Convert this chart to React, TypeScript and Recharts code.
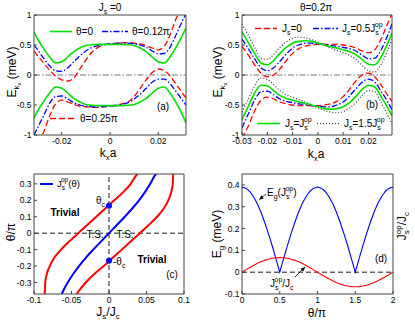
import React from "react"
import { LineChart, Line, XAxis, YAxis, ReferenceLine, ReferenceDot } from "recharts"

const W = 415
const H = 323
const FONT = "'Liberation Sans', Arial, sans-serif"
const AX = "#444"
const GREEN = "#00e000"
const BLUE = "#0000ff"
const RED = "#ff0000"

// (a) J_s = 0, three angles
const kxA = [-0.0315, -0.03, -0.0275, -0.025, -0.0225, -0.02, -0.0175, -0.015, -0.0125, -0.01, -0.0075, -0.005, -0.0025, 0, 0.0025, 0.005, 0.0075, 0.01, 0.0125, 0.015, 0.0175, 0.02, 0.0225, 0.025, 0.0275, 0.03, 0.0315]
const aGreenUp = [0.72, 0.6, 0.44, 0.3, 0.2, 0.22, 0.3, 0.39, 0.45, 0.49, 0.505, 0.51, 0.51, 0.51, 0.51, 0.51, 0.505, 0.49, 0.45, 0.39, 0.3, 0.22, 0.2, 0.31, 0.47, 0.66, 0.78]
const aGreenDn = [-0.72, -0.6, -0.44, -0.3, -0.2, -0.22, -0.3, -0.39, -0.45, -0.49, -0.505, -0.51, -0.51, -0.51, -0.51, -0.51, -0.505, -0.49, -0.45, -0.39, -0.3, -0.22, -0.2, -0.31, -0.47, -0.66, -0.8]
const aBlueUp = [0.5, 0.42, 0.28, 0.15, 0.07, 0.06, 0.12, 0.22, 0.32, 0.4, 0.46, 0.49, 0.51, 0.52, 0.525, 0.53, 0.53, 0.52, 0.5, 0.46, 0.4, 0.35, 0.36, 0.47, 0.68, 0.9, 1.02]
const aBlueDn = [-1.0, -0.88, -0.68, -0.47, -0.36, -0.35, -0.4, -0.46, -0.5, -0.52, -0.53, -0.53, -0.525, -0.52, -0.51, -0.49, -0.46, -0.4, -0.32, -0.22, -0.12, -0.07, -0.07, -0.15, -0.28, -0.42, -0.5]
const aRedUp = [0.4, 0.32, 0.2, 0.08, -0.02, -0.08, -0.1, -0.05, 0.1, 0.25, 0.38, 0.46, 0.5, 0.52, 0.53, 0.54, 0.54, 0.53, 0.52, 0.49, 0.45, 0.42, 0.48, 0.68, 0.95, 1.15, 1.25]
const aRedDn = [-1.25, -1.15, -0.95, -0.68, -0.48, -0.42, -0.45, -0.49, -0.52, -0.53, -0.54, -0.54, -0.53, -0.52, -0.5, -0.48, -0.45, -0.36, -0.22, -0.08, 0.04, 0.1, 0.07, -0.02, -0.16, -0.3, -0.38]

// (b) theta = 0.2 pi, four J_s values
const kxB = [-0.03, -0.0275, -0.025, -0.0225, -0.02, -0.0175, -0.015, -0.0125, -0.01, -0.0075, -0.005, -0.0025, 0, 0.0025, 0.005, 0.0075, 0.01, 0.0125, 0.015, 0.0175, 0.02, 0.0225, 0.025, 0.0275, 0.0293]
const bRedUp = [0.48, 0.33, 0.17, 0.03, -0.03, 0.0, 0.1, 0.24, 0.36, 0.44, 0.48, 0.5, 0.51, 0.51, 0.51, 0.51, 0.5, 0.48, 0.45, 0.4, 0.37, 0.42, 0.6, 0.85, 1.02]
const bRedDn = [-1.05, -0.85, -0.6, -0.42, -0.37, -0.4, -0.45, -0.48, -0.5, -0.51, -0.51, -0.51, -0.51, -0.5, -0.48, -0.44, -0.36, -0.24, -0.1, 0.0, 0.03, -0.03, -0.17, -0.33, -0.44]
const bBlueUp = [0.6, 0.44, 0.27, 0.12, 0.07, 0.12, 0.23, 0.35, 0.45, 0.5, 0.53, 0.53, 0.52, 0.51, 0.49, 0.48, 0.46, 0.44, 0.4, 0.33, 0.27, 0.28, 0.42, 0.65, 0.85]
const bBlueDn = [-0.88, -0.65, -0.42, -0.28, -0.27, -0.33, -0.4, -0.44, -0.46, -0.48, -0.49, -0.51, -0.52, -0.53, -0.53, -0.5, -0.45, -0.35, -0.23, -0.12, -0.07, -0.12, -0.27, -0.44, -0.58]
const bGreenUp = [0.72, 0.54, 0.36, 0.2, 0.17, 0.24, 0.36, 0.46, 0.53, 0.56, 0.57, 0.56, 0.53, 0.5, 0.47, 0.45, 0.42, 0.39, 0.34, 0.26, 0.18, 0.17, 0.3, 0.52, 0.7]
const bGreenDn = [-0.74, -0.52, -0.3, -0.17, -0.18, -0.26, -0.34, -0.39, -0.42, -0.45, -0.47, -0.5, -0.53, -0.56, -0.57, -0.56, -0.53, -0.46, -0.36, -0.24, -0.17, -0.2, -0.36, -0.54, -0.68]
const bDotUp = [0.85, 0.66, 0.46, 0.28, 0.26, 0.34, 0.46, 0.55, 0.61, 0.63, 0.62, 0.59, 0.55, 0.5, 0.45, 0.41, 0.37, 0.33, 0.26, 0.16, 0.07, 0.05, 0.18, 0.4, 0.6]
const bDotDn = [-0.62, -0.4, -0.18, -0.05, -0.07, -0.16, -0.26, -0.33, -0.37, -0.41, -0.45, -0.5, -0.55, -0.59, -0.62, -0.63, -0.61, -0.55, -0.46, -0.34, -0.26, -0.28, -0.46, -0.66, -0.82]

// (c) phase diagram, J_s/J_c as function of theta/pi
const thetaC = [-0.37, -0.35, -0.3, -0.25, -0.2, -0.15, -0.1, -0.05, 0, 0.05, 0.1, 0.15, 0.2, 0.25, 0.3, 0.35, 0.36]
const cBlue = [-0.063, -0.061, -0.055, -0.048, -0.04, -0.031, -0.021, -0.0105, 0, 0.0105, 0.021, 0.031, 0.04, 0.048, 0.055, 0.061, 0.063]
const cRedR = [-0.043, -0.04, -0.031, -0.02, -0.007, 0.005, 0.017, 0.029, 0.041, 0.053, 0.064, 0.073, 0.079, 0.083, 0.085, 0.0855, 0.0857]
const cRedL = [-0.0857, -0.0855, -0.085, -0.083, -0.079, -0.073, -0.064, -0.053, -0.041, -0.029, -0.017, -0.005, 0.007, 0.019, 0.029, 0.036, 0.038]
const critJ = [0, 0]
const critTheta = [0.167, -0.167]

// (d) gap and optimal J_s vs theta/pi
const thetaD = [0, 0.05, 0.1, 0.15, 0.2, 0.25, 0.3, 0.35, 0.4, 0.45, 0.5, 0.55, 0.6, 0.65, 0.7, 0.75, 0.8, 0.85, 0.9, 0.95, 1, 1.05, 1.1, 1.15, 1.2, 1.25, 1.3, 1.35, 1.4, 1.45, 1.5, 1.55, 1.6, 1.65, 1.7, 1.75, 1.8, 1.85, 1.9, 1.95, 2]
const dGap = [0.39, 0.385, 0.371, 0.347, 0.316, 0.276, 0.229, 0.177, 0.121, 0.061, 0, 0.061, 0.121, 0.177, 0.229, 0.276, 0.316, 0.347, 0.371, 0.385, 0.39, 0.385, 0.371, 0.347, 0.316, 0.276, 0.229, 0.177, 0.121, 0.061, 0, 0.061, 0.121, 0.177, 0.229, 0.276, 0.316, 0.347, 0.371, 0.385, 0.39]
const dJop = [0, 0.0105, 0.0207, 0.0304, 0.0394, 0.0474, 0.0542, 0.0597, 0.0637, 0.0662, 0.067, 0.0662, 0.0637, 0.0597, 0.0542, 0.0474, 0.0394, 0.0304, 0.0207, 0.0105, 0, -0.0105, -0.0207, -0.0304, -0.0394, -0.0474, -0.0542, -0.0597, -0.0637, -0.0662, -0.067, -0.0662, -0.0637, -0.0597, -0.0542, -0.0474, -0.0394, -0.0304, -0.0207, -0.0105, 0]

const rowsA = kxA.map((k, i) => ({ k, gU: aGreenUp[i], gD: aGreenDn[i], bU: aBlueUp[i], bD: aBlueDn[i], rU: aRedUp[i], rD: aRedDn[i] }))
const rowsB = kxB.map((k, i) => ({
  k, rU: bRedUp[i], rD: bRedDn[i], bU: bBlueUp[i], bD: bBlueDn[i], gU: bGreenUp[i], gD: bGreenDn[i], dU: bDotUp[i], dD: bDotDn[i],
}))
const lineBlueC = thetaC.map((t, i) => ({ j: cBlue[i], t }))
const lineRedRC = thetaC.map((t, i) => ({ j: cRedR[i], t }))
const lineRedLC = thetaC.map((t, i) => ({ j: cRedL[i], t }))
const rowsD = thetaD.map((th, i) => ({ th, gap: dGap[i], jop: dJop[i] }))

const tickStyle = { fontSize: 8.5, fill: "#000", fontFamily: FONT }

// box-style frame: ticks on all four sides, pointing inward
function frame(xd: number[], xt: number[], yd: number[], yt: number[], xKey: string) {
  return [
    <XAxis key="xb" xAxisId="b" type="number" dataKey={xKey} domain={xd} ticks={xt} allowDataOverflow interval={0}
      orientation="bottom" height={20} tickSize={-3} tickMargin={6} stroke={AX} tick={tickStyle} />,
    <XAxis key="xt" xAxisId="t" type="number" dataKey={xKey} domain={xd} ticks={xt} allowDataOverflow interval={0}
      orientation="top" height={1} tickSize={-3} stroke={AX} tick={false} />,
    <YAxis key="yl" yAxisId="l" type="number" domain={yd} ticks={yt} allowDataOverflow interval={0}
      width={28} tickSize={-3} tickMargin={5.5} stroke={AX} tick={tickStyle} />,
    <YAxis key="yr" yAxisId="r" orientation="right" type="number" domain={yd} ticks={yt} allowDataOverflow interval={0}
      width={1} tickSize={-3} stroke={AX} tick={false} />,
  ]
}

const DASH = "6 3"
const DASHDOT = "6 2 1.5 2"
const DOT = "1 2"

function ln(key: string, color: string, w: number, dash?: string) {
  return (
    <Line key={key} xAxisId="b" yAxisId="l" dataKey={key} type="monotone" stroke={color}
      strokeWidth={w} strokeDasharray={dash} dot={false} isAnimationActive={false} />
  )
}

const abs: React.CSSProperties = { position: "absolute", left: 0, top: 0 }

// subscript, then optional text back on the baseline
function Sub({ s, after, size = 7 }: { s: string; after?: string; size?: number }) {
  return (
    <>
      <tspan dy={3} fontSize={size}>{s}</tspan>
      {after ? <tspan dy={-3}>{after}</tspan> : null}
    </>
  )
}

// J_s^{op}: subscript and superscript stacked
function JsOp({ after, size = 7 }: { after?: string; size?: number }) {
  return (
    <>
      <tspan>J</tspan>
      <tspan dy={3} fontSize={size}>s</tspan>
      <tspan dx={-4} dy={-8} fontSize={size}>op</tspan>
      {after ? <tspan dy={5}>{after}</tspan> : null}
    </>
  )
}

export default function App() {
  return (
    <div style={{ position: "absolute", left: 0, top: 0, width: W, height: H, background: "#fff", fontFamily: FONT }}>
      {/* (a) */}
      <div style={abs}>
        <LineChart width={W} height={H} data={rowsA} margin={{ left: 6, right: 228, top: 14, bottom: 168 }}>
          {frame([-0.0315, 0.0315], [-0.02, 0, 0.02], [-1, 1], [-1, -0.5, 0, 0.5, 1], "k")}
          <ReferenceLine xAxisId="b" yAxisId="l" y={0} stroke="#555" strokeWidth={0.8} strokeDasharray={DASHDOT} />
          {ln("rU", RED, 1.3, DASH)}
          {ln("rD", RED, 1.3, DASH)}
          {ln("bU", BLUE, 1.3, DASHDOT)}
          {ln("bD", BLUE, 1.3, DASHDOT)}
          {ln("gU", GREEN, 1.6)}
          {ln("gD", GREEN, 1.6)}
        </LineChart>
      </div>

      {/* (b) */}
      <div style={abs}>
        <LineChart width={W} height={H} data={rowsB} margin={{ left: 214, right: 22, top: 14, bottom: 168 }}>
          {frame([-0.03, 0.0293], [-0.03, -0.02, -0.01, 0, 0.01, 0.02], [-1, 1], [-1, -0.5, 0, 0.5, 1], "k")}
          <ReferenceLine xAxisId="b" yAxisId="l" y={0} stroke="#555" strokeWidth={0.8} strokeDasharray={DASHDOT} />
          {ln("dU", "#333", 1.2, DOT)}
          {ln("dD", "#333", 1.2, DOT)}
          {ln("rU", RED, 1.3, DASH)}
          {ln("rD", RED, 1.3, DASH)}
          {ln("bU", BLUE, 1.3, DASHDOT)}
          {ln("bD", BLUE, 1.3, DASHDOT)}
          {ln("gU", GREEN, 1.6)}
          {ln("gD", GREEN, 1.6)}
        </LineChart>
      </div>

      {/* (c) */}
      <div style={abs}>
        <LineChart width={W} height={H} margin={{ left: 6, right: 230, top: 173, bottom: 9 }}>
          {frame([-0.1, 0.1], [-0.1, -0.05, 0, 0.05, 0.1], [-0.37, 0.36], [-0.3, -0.2, -0.1, 0, 0.1, 0.2, 0.3], "j")}
          <ReferenceLine xAxisId="b" yAxisId="l" y={0} stroke="#000" strokeWidth={0.9} strokeDasharray="5 3" />
          <ReferenceLine xAxisId="b" yAxisId="l" x={0} stroke="#000" strokeWidth={0.9} strokeDasharray="5 3" />
          <Line xAxisId="b" yAxisId="l" data={lineRedLC} dataKey="t" type="monotone" stroke={RED} strokeWidth={2} dot={false} isAnimationActive={false} />
          <Line xAxisId="b" yAxisId="l" data={lineRedRC} dataKey="t" type="monotone" stroke={RED} strokeWidth={2} dot={false} isAnimationActive={false} />
          <Line xAxisId="b" yAxisId="l" data={lineBlueC} dataKey="t" type="monotone" stroke={BLUE} strokeWidth={2} dot={false} isAnimationActive={false} />
          {critTheta.map((t, i) => (
            <ReferenceDot key={i} xAxisId="b" yAxisId="l" x={critJ[i]} y={t} r={3} fill={BLUE} stroke="none" />
          ))}
        </LineChart>
      </div>

      {/* (d) */}
      <div style={abs}>
        <LineChart width={W} height={H} data={rowsD} margin={{ left: 214, right: 21, top: 173, bottom: 9 }}>
          {frame([0, 2], [0, 0.5, 1, 1.5, 2], [-0.1, 0.45], [-0.1, 0, 0.1, 0.2, 0.3, 0.4], "th")}
          <ReferenceLine xAxisId="b" yAxisId="l" y={0} stroke="#000" strokeWidth={0.9} strokeDasharray="5 3" />
          <Line xAxisId="b" yAxisId="l" dataKey="gap" type="linear" stroke={BLUE} strokeWidth={1.1} dot={false} isAnimationActive={false} />
          <Line xAxisId="b" yAxisId="l" dataKey="jop" type="linear" stroke={RED} strokeWidth={1.1} dot={false} isAnimationActive={false} />
        </LineChart>
      </div>

      {/* labels, legends, annotations */}
      <svg width={W} height={H} style={{ ...abs, pointerEvents: "none" }} fontFamily={FONT}>
        <defs>
          <marker id="ah" viewBox="0 0 10 10" refX="9" refY="5" markerWidth="6" markerHeight="6" orient="auto-start-reverse">
            <path d="M0,1 L10,5 L0,9 z" fill="#000" />
          </marker>
        </defs>

        {/* (a) */}
        <text x={110} y={11} textAnchor="middle" fontSize={10}>J<Sub s="s" after=" =0" /></text>
        <line x1={50} x2={72} y1={31.5} y2={31.5} stroke={GREEN} strokeWidth={1.6} />
        <text x={76} y={35} fontSize={10}>θ=0</text>
        <line x1={102} x2={128} y1={31.5} y2={31.5} stroke={BLUE} strokeWidth={1.3} strokeDasharray={DASHDOT} />
        <text x={132} y={35} fontSize={10}>θ=0.12π</text>
        <line x1={50} x2={75} y1={118.5} y2={118.5} stroke={RED} strokeWidth={1.3} strokeDasharray={DASH} />
        <text x={80} y={122} fontSize={10}>θ=0.25π</text>
        <text x={163} y={110} textAnchor="middle" fontSize={10}>(a)</text>
        <text transform="translate(16,72) rotate(-90)" textAnchor="middle" fontSize={12}>
          E<tspan dy={3} fontSize={8}>k</tspan><tspan dy={2} fontSize={6}>x</tspan><tspan dy={-5}> (meV)</tspan>
        </text>
        <text x={108} y={157} textAnchor="middle" fontSize={12}>k<Sub s="x" after="a" size={8} /></text>

        {/* (b) */}
        <text x={316} y={11} textAnchor="middle" fontSize={10}>θ=0.2π</text>
        <line x1={255} x2={277} y1={28.5} y2={28.5} stroke={RED} strokeWidth={1.3} strokeDasharray={DASH} />
        <text x={282} y={32} fontSize={10}>J<Sub s="s" after="=0" /></text>
        <line x1={313} x2={338} y1={28.5} y2={28.5} stroke={BLUE} strokeWidth={1.3} strokeDasharray={DASHDOT} />
        <text x={342} y={32} fontSize={10}>J<Sub s="s" after="=0.5" /><JsOp /></text>
        <line x1={257} x2={280} y1={123.5} y2={123.5} stroke={GREEN} strokeWidth={1.6} />
        <text x={285} y={127} fontSize={10}>J<Sub s="s" after="=" /><JsOp /></text>
        <line x1={317} x2={340} y1={123.5} y2={123.5} stroke="#333" strokeWidth={1.2} strokeDasharray={DOT} />
        <text x={344} y={127} fontSize={10}>J<Sub s="s" after="=1.5" /><JsOp /></text>
        <text x={372} y={108} textAnchor="middle" fontSize={10}>(b)</text>
        <text transform="translate(222,72) rotate(-90)" textAnchor="middle" fontSize={12}>
          E<tspan dy={3} fontSize={8}>k</tspan><tspan dy={2} fontSize={6}>x</tspan><tspan dy={-5}> (meV)</tspan>
        </text>
        <text x={316} y={158} textAnchor="middle" fontSize={12}>k<Sub s="x" after="a" size={8} /></text>

        {/* (c) */}
        <line x1={40} x2={53} y1={184} y2={184} stroke={BLUE} strokeWidth={2} />
        <text x={57} y={187} fontSize={9.5}><JsOp size={6.5} after="(θ)" /></text>
        <text x={65} y={216} textAnchor="middle" fontSize={10} fontWeight="bold">Trivial</text>
        <text x={152} y={263} textAnchor="middle" fontSize={10} fontWeight="bold">Trivial</text>
        <text x={95} y={238} textAnchor="middle" fontSize={10}>T.S.</text>
        <text x={125} y={238} textAnchor="middle" fontSize={10}>T.S.</text>
        <text x={96} y={204} fontSize={10}>θ<Sub s="c" /></text>
        <text x={113} y={265} fontSize={10}>-θ<Sub s="c" /></text>
        <text x={172} y={278} textAnchor="middle" fontSize={10}>(c)</text>
        <text transform="translate(15,232) rotate(-90)" textAnchor="middle" fontSize={12}>θ/π</text>
        <text x={108} y={316} textAnchor="middle" fontSize={12}>J<Sub s="s" after="/J" size={8} /><Sub s="c" size={8} /></text>

        {/* (d) */}
        <text x={267} y={196} fontSize={10}>E<Sub s="g" after="(" /><JsOp after=")" /></text>
        <line x1={266} y1={194} x2={259.5} y2={199.5} stroke="#000" strokeWidth={0.8} markerEnd="url(#ah)" />
        <text x={270} y={287} fontSize={10}><JsOp after="/J" /><Sub s="c" /></text>
        <line x1={295} y1={277} x2={305} y2={267} stroke="#000" strokeWidth={0.8} markerEnd="url(#ah)" />
        <text x={381} y={262} textAnchor="middle" fontSize={10}>(d)</text>
        <text transform="translate(221,234) rotate(-90)" textAnchor="middle" fontSize={12}>
          E<tspan dy={3} fontSize={8}>g</tspan><tspan dy={-3}> (meV)</tspan>
        </text>
        <text transform="translate(406,226) rotate(-90)" textAnchor="middle" fontSize={12}>
          <JsOp size={8} after="/J" /><Sub s="c" size={8} />
        </text>
        <text x={317} y={317} textAnchor="middle" fontSize={12}>θ/π</text>
      </svg>
    </div>
  )
}
